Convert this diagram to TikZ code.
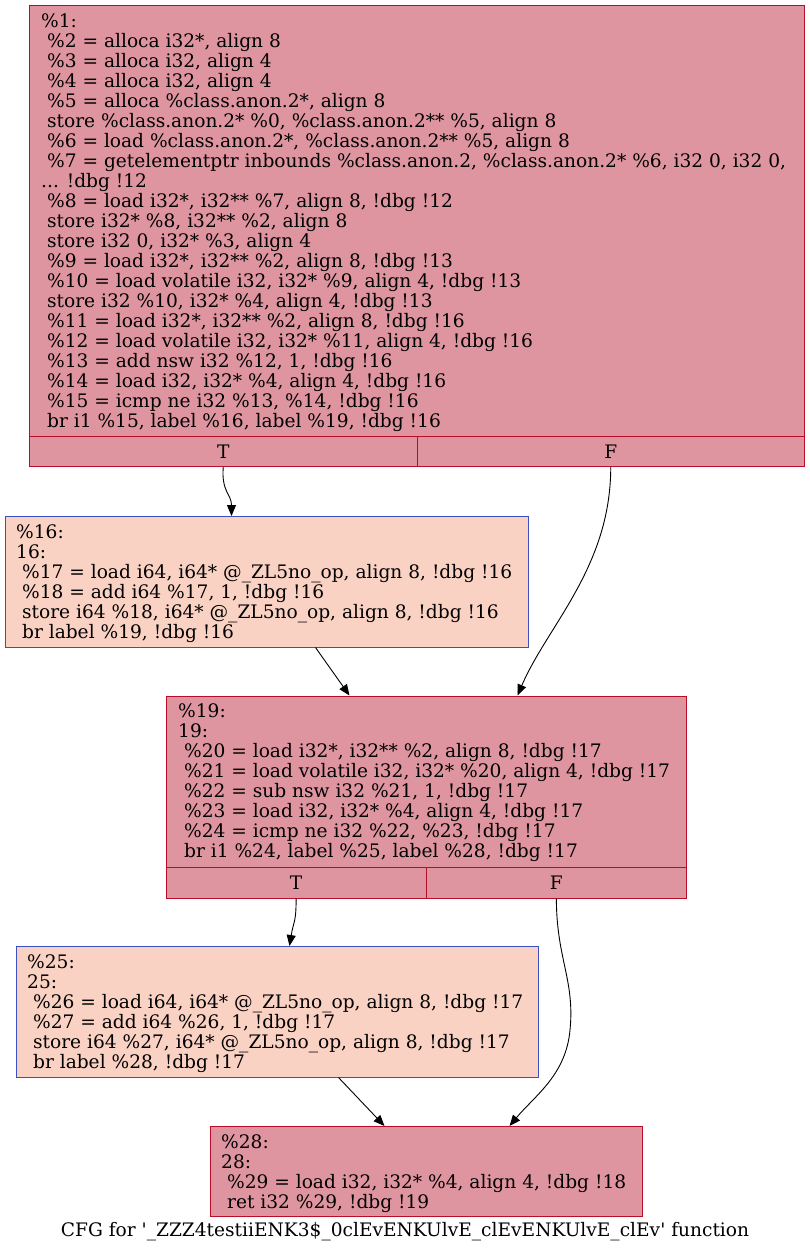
\documentclass[tikz,border=0pt]{standalone}
\usepackage{fontspec}
\setmainfont{DejaVu Serif}[Ligatures=TeXOff]
\usetikzlibrary{arrows.meta,calc}

\definecolor{hotedge}{HTML}{B70D28}
\definecolor{coldedge}{HTML}{3D50C3}
\definecolor{warmbase}{HTML}{F4987A}
\colorlet{hotfill}{hotedge!44!white}
\colorlet{warmfill}{warmbase!44!white}

\tikzset{
  x=1pt, y=-1pt,
  blockfont/.style={font=\fontsize{18.6}{20}\selectfont},
  hotbox/.style={rectangle, draw=hotedge, fill=hotfill, line width=1pt, inner sep=0pt, blockfont},
  warmbox/.style={rectangle, draw=coldedge, fill=warmfill, line width=1pt, inner sep=0pt},
  code/.style={anchor=north west, inner sep=0pt, align=left, blockfont},
  flow/.style={draw=black, line width=0.9pt, -{Triangle[length=11pt,width=9pt]}},
}

\begin{document}
\begin{tikzpicture}
\useasboundingbox (0,0) rectangle (810,1255);

% entry block %1 with its T/F branch cells
\node[hotbox, minimum width=775pt, minimum height=431pt] (b1) at (417,221) {};
\node[hotbox, minimum width=387.5pt, minimum height=30pt] (b1T) at (223.25,451.5) {T};
\node[hotbox, minimum width=387.5pt, minimum height=30pt] (b1F) at (610.75,451.5) {F};
\node[code] (b1text) at (41,13) {\%1:\\
\ \%2 = alloca i32*, align 8\\
\ \%3 = alloca i32, align 4\\
\ \%4 = alloca i32, align 4\\
\ \%5 = alloca \%class.anon.2*, align 8\\
\ store \%class.anon.2* \%0, \%class.anon.2** \%5, align 8\\
\ \%6 = load \%class.anon.2*, \%class.anon.2** \%5, align 8\\
\ \%7 = getelementptr inbounds \%class.anon.2, \%class.anon.2* \%6, i32 0, i32 0,\\
... !dbg !12\\
\ \%8 = load i32*, i32** \%7, align 8, !dbg !12\\
\ store i32* \%8, i32** \%2, align 8\\
\ store i32 0, i32* \%3, align 4\\
\ \%9 = load i32*, i32** \%2, align 8, !dbg !13\\
\ \%10 = load volatile i32, i32* \%9, align 4, !dbg !13\\
\ store i32 \%10, i32* \%4, align 4, !dbg !13\\
\ \%11 = load i32*, i32** \%2, align 8, !dbg !16\\
\ \%12 = load volatile i32, i32* \%11, align 4, !dbg !16\\
\ \%13 = add nsw i32 \%12, 1, !dbg !16\\
\ \%14 = load i32, i32* \%4, align 4, !dbg !16\\
\ \%15 = icmp ne i32 \%13, \%14, !dbg !16\\
\ br i1 \%15, label \%16, label \%19, !dbg !16};

% block %16
\node[warmbox, minimum width=523pt, minimum height=130.5pt] (b16) at (266.5,581.75) {};
\node[code] (b16text) at (16,524) {\%16:\\
16:\\
\ \%17 = load i64, i64* @\_ZL5no\_op, align 8, !dbg !16\\
\ \%18 = add i64 \%17, 1, !dbg !16\\
\ store i64 \%18, i64* @\_ZL5no\_op, align 8, !dbg !16\\
\ br label \%19, !dbg !16};

% block %19 with its T/F branch cells
\node[hotbox, minimum width=520.5pt, minimum height=171pt] (b19) at (426.25,781.5) {};
\node[hotbox, minimum width=260.25pt, minimum height=31pt] (b19T) at (296.125,882.5) {T};
\node[hotbox, minimum width=260.25pt, minimum height=31pt] (b19F) at (556.375,882.5) {F};
\node[code] (b19text) at (178,703.5) {\%19:\\
19:\\
\ \%20 = load i32*, i32** \%2, align 8, !dbg !17\\
\ \%21 = load volatile i32, i32* \%20, align 4, !dbg !17\\
\ \%22 = sub nsw i32 \%21, 1, !dbg !17\\
\ \%23 = load i32, i32* \%4, align 4, !dbg !17\\
\ \%24 = icmp ne i32 \%22, \%23, !dbg !17\\
\ br i1 \%24, label \%25, label \%28, !dbg !17};

% block %25
\node[warmbox, minimum width=522.5pt, minimum height=130.5pt] (b25) at (277.25,1011.75) {};
\node[code] (b25text) at (27,954) {\%25:\\
25:\\
\ \%26 = load i64, i64* @\_ZL5no\_op, align 8, !dbg !17\\
\ \%27 = add i64 \%26, 1, !dbg !17\\
\ store i64 \%27, i64* @\_ZL5no\_op, align 8, !dbg !17\\
\ br label \%28, !dbg !17};

% exit block %28
\node[hotbox, minimum width=432.5pt, minimum height=89.5pt] (b28) at (426.25,1171.25) {};
\node[code] (b28text) at (221,1134) {\%28:\\
28:\\
\ \%29 = load i32, i32* \%4, align 4, !dbg !18\\
\ ret i32 \%29, !dbg !19};

% edge end points on the block borders
\coordinate (in16) at ($(b16.north west)+(227,0)$);
\coordinate (out16) at ($(b16.south west)+(311,0)$);
\coordinate (in19a) at ($(b19.north west)+(184,0)$);
\coordinate (in19b) at ($(b19.north west)+(352,0)$);
\coordinate (in25) at ($(b25.north west)+(274,0)$);
\coordinate (out25) at ($(b25.south west)+(323,0)$);
\coordinate (in28a) at ($(b28.north west)+(175,0)$);
\coordinate (in28b) at ($(b28.north west)+(300,0)$);

% control flow edges
\draw[flow] (b1T.south) .. controls ($(b1T.south)+(-2,25)$) and ($(in16)+(0,-22)$) .. (in16);
\draw[flow] (b1F.south) .. controls ($(b1F.south)+(0,100)$) and ($(in19b)+(30,-70)$) .. (in19b);
\draw[flow] (out16) -- (in19a);
\draw[flow] (b19T.south) .. controls ($(b19T.south)+(0,25)$) and ($(in25)+(4,-25)$) .. (in25);
\draw[flow] (b19F.south) .. controls ($(b19F.south)+(0,60)$) and (575,980) .. (570,1030)
  .. controls (566,1075) and ($(in28b)+(25,-30)$) .. (in28b);
\draw[flow] (out25) -- (in28a);

% graph title
\node[blockfont, anchor=center, inner sep=0pt] (title) at (405,1232)
  {CFG for '\_ZZZ4testiiENK3\$\_0clEvENKUlvE\_clEvENKUlvE\_clEv' function};
\end{tikzpicture}
\end{document}
